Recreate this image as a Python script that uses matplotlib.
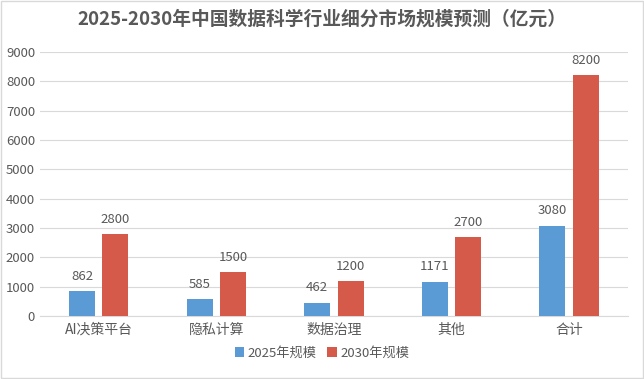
import matplotlib
matplotlib.use('Agg')
import matplotlib.pyplot as plt
import numpy as np

plt.rcParams['font.family'] = ['Noto Sans CJK SC', 'DejaVu Sans']

categories = ['AI决策平台', '隐私计算', '数据治理', '其他', '合计']
values_2025 = [862, 585, 462, 1171, 3080]
values_2030 = [2800, 1500, 1200, 2700, 8200]
series_names = ['2025年规模', '2030年规模']

text_color = '#595959'
blue = '#5B9BD5'
red = '#D65A4A'

fig = plt.figure(figsize=(6.44, 3.79), dpi=100)
ax = fig.add_axes([0.062, 0.166, 0.913, 0.697])

x = np.arange(len(categories))
w = 0.22
off = 0.142
bars1 = ax.bar(x - off, values_2025, w, color=blue, label=series_names[0], zorder=3)
bars2 = ax.bar(x + off, values_2030, w, color=red, label=series_names[1], zorder=3)

# 数值标签
for bars in (bars1, bars2):
    for b in bars:
        ax.text(b.get_x() + b.get_width() / 2, b.get_height() + 280, str(int(b.get_height())),
                ha='center', va='bottom', fontsize=9.5, color=text_color)

ax.set_xlim(-0.5, len(categories) - 0.5)
ax.set_ylim(0, 9000)
ax.set_yticks(range(0, 9001, 1000))
ax.set_xticks(x)
ax.set_xticklabels(categories, fontsize=10)
ax.tick_params(axis='both', length=0, colors=text_color)
ax.tick_params(axis='y', labelsize=9.5)
ax.tick_params(axis='x', pad=5)
ax.grid(axis='y', color='#D9D9D9', linewidth=0.8, zorder=0)
for s in ['top', 'right', 'left']:
    ax.spines[s].set_visible(False)
ax.spines['bottom'].set_color('#D9D9D9')

fig.suptitle('2025-2030年中国数据科学行业细分市场规模预测（亿元）', x=0.5, y=0.975,
             fontsize=13.5, fontweight='bold', color=text_color)

fig.legend(loc='lower center', bbox_to_anchor=(0.5, 0.02), ncol=2, frameon=False,
           fontsize=9.5, handlelength=0.7, handleheight=0.7, handletextpad=0.3,
           columnspacing=0.8, labelcolor=text_color)

# 外边框
fig.patches.append(plt.Rectangle((0.002, 0.002), 0.996, 0.996, transform=fig.transFigure,
                                 fill=False, edgecolor='#D9D9D9', linewidth=1))

fig.savefig('out.png', dpi=100)
